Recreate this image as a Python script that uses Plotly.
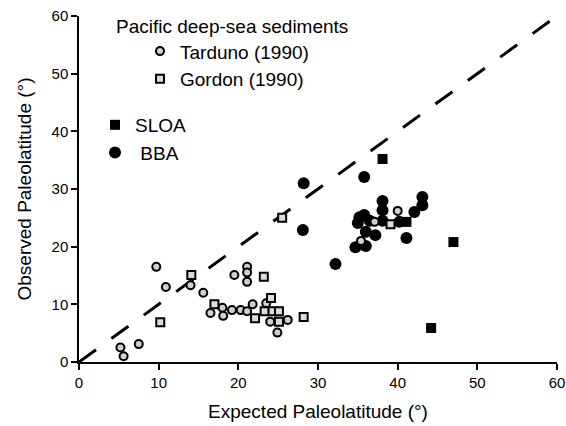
import plotly.graph_objects as go

# ---- data ----
ref_line_x = [0, 60]
ref_line_y = [0, 60]

tarduno_x = [5.2, 5.6, 7.5, 9.7, 10.9, 14.0, 15.6, 16.5, 18.0, 18.1, 19.2, 20.3, 21.1, 21.8,
             23.5, 24.0, 26.2, 24.9, 19.5, 21.1, 21.1, 21.1, 35.4, 37.1, 40.0]
tarduno_y = [2.5, 1.0, 3.1, 16.5, 13.0, 13.3, 12.0, 8.5, 9.4, 8.0, 9.0, 9.0, 8.8, 10.0,
             10.2, 7.0, 7.3, 5.1, 15.1, 16.5, 15.5, 13.9, 21.0, 24.3, 26.2]

gordon_x = [10.2, 14.1, 17.0, 22.1, 23.2, 23.3, 24.1, 24.3, 25.1, 25.1, 25.5, 28.2, 39.1]
gordon_y = [6.9, 15.1, 10.0, 7.6, 14.8, 8.8, 11.1, 8.8, 8.8, 7.0, 25.0, 7.8, 23.9]

bba_x = [28.2, 35.8, 28.1, 32.2, 38.1, 38.1, 35.2, 35.8, 35.0, 36.0, 37.2, 34.7, 36.0,
         41.1, 42.1, 43.1, 43.1, 38.1, 36.5, 40.2]
bba_y = [31.0, 32.1, 22.9, 17.0, 27.9, 26.3, 25.1, 25.5, 24.1, 22.6, 22.0, 19.9, 20.1,
         21.5, 26.0, 28.6, 27.2, 24.5, 24.5, 24.3]

sloa_x = [38.1, 41.1, 47.0, 44.2]
sloa_y = [35.2, 24.3, 20.8, 5.9]

axis_ticks = [0, 10, 20, 30, 40, 50, 60]

FONT = "Liberation Sans, Arial, Helvetica, sans-serif"

fig = go.Figure()

fig.add_trace(go.Scatter(
    x=ref_line_x, y=ref_line_y, mode="lines", showlegend=False, hoverinfo="skip",
    line=dict(color="black", width=3, dash="21px,19px")))

fig.add_trace(go.Scatter(
    x=sloa_x, y=sloa_y, mode="markers", name="SLOA", legend="legend2", legendrank=1,
    marker=dict(symbol="square", size=10, color="black", line=dict(width=0))))

fig.add_trace(go.Scatter(
    x=bba_x, y=bba_y, mode="markers", name="\u00a0BBA", legend="legend2", legendrank=2,
    marker=dict(symbol="circle", size=12, color="black", line=dict(width=0))))

fig.add_trace(go.Scatter(
    x=tarduno_x, y=tarduno_y, mode="markers", name="Tarduno (1990)", legendrank=1,
    marker=dict(symbol="circle", size=8, color="#cfcfcf", line=dict(color="black", width=2))))

fig.add_trace(go.Scatter(
    x=gordon_x, y=gordon_y, mode="markers", name="Gordon (1990)", legendrank=2,
    marker=dict(symbol="square", size=8, color="#dcdcdc", line=dict(color="black", width=2))))

axis_common = dict(
    range=[0, 60], tickvals=axis_ticks, ticks="outside", ticklen=6, tickwidth=1.5,
    tickcolor="black", showline=True, linecolor="black", linewidth=1.5,
    showgrid=False, zeroline=False, automargin=False,
    tickfont=dict(size=15, color="black", family=FONT),
)

fig.update_layout(
    width=566, height=426,
    margin=dict(l=79, r=9, t=16, b=64),
    paper_bgcolor="white", plot_bgcolor="white",
    font=dict(family=FONT, color="black"),
    xaxis=dict(**axis_common,
               title=dict(text="Expected Paleolatitude (°)", font=dict(size=19), standoff=15)),
    yaxis=dict(**axis_common,
               title=dict(text="Observed Paleolatitude (°)", font=dict(size=19), standoff=15)),
    legend=dict(x=0.1276, y=0.953, xanchor="left", yanchor="top", bgcolor="rgba(0,0,0,0)",
                font=dict(size=19), traceorder="normal"),
    legend2=dict(x=0.0335, y=0.74, xanchor="left", yanchor="top", bgcolor="rgba(0,0,0,0)",
                 font=dict(size=19), traceorder="normal"),
    annotations=[dict(text="Pacific deep-sea sediments", xref="paper", yref="paper",
                      x=0.0732, y=0.971, xanchor="left", yanchor="middle", showarrow=False,
                      font=dict(size=19))],
)

fig.write_html("out.html", config={"displayModeBar": False},
               post_script="document.body.style.margin='0';")
